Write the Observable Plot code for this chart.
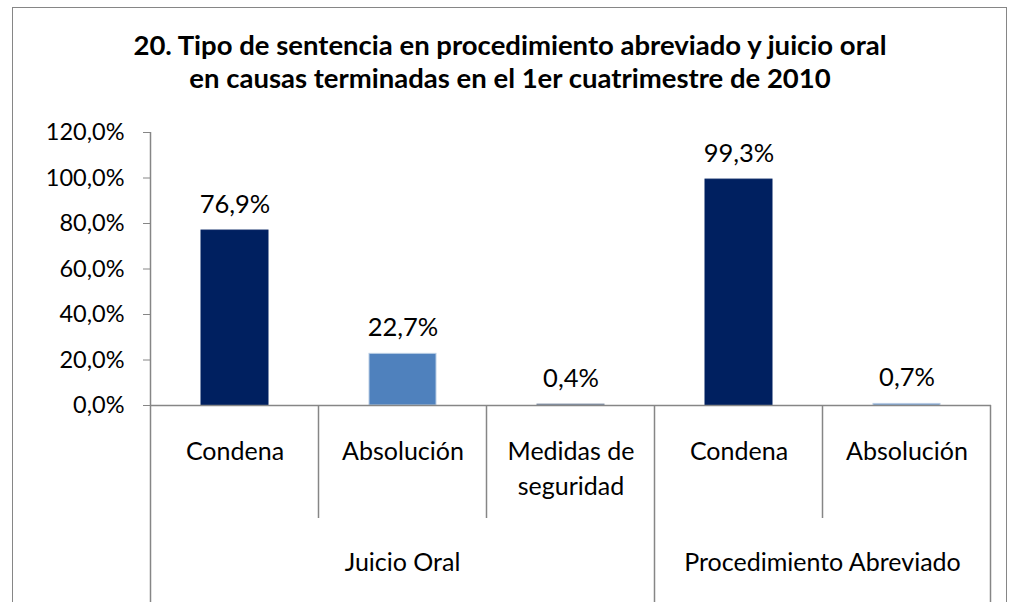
<!DOCTYPE html>
<html>
<head>
<meta charset="utf-8">
<script src="https://cdn.jsdelivr.net/npm/d3@7"></script>
<script src="https://cdn.jsdelivr.net/npm/@observablehq/plot@0.6"></script>
<style>
  html, body { margin: 0; padding: 0; background: #fff; width: 1015px; height: 602px; overflow: hidden; }
  #frame { position: absolute; left: 12px; top: 7px; width: 995px; height: 640px; border: 1px solid #868686; box-sizing: border-box; }
  #title { position: absolute; left: 12px; top: 28px; width: 996px; text-align: center; font-family: Lato, sans-serif; font-weight: bold; font-size: 27.5px; line-height: 33px; color: #000; }
  #chart { position: absolute; left: 0; top: 110px; }
</style>
</head>
<body>
<div id="frame"></div>
<div id="title">20. Tipo de sentencia en procedimiento abreviado y juicio oral<br>en causas terminadas en el 1er cuatrimestre de 2010</div>
<div id="chart"></div>
<script>
const groups = ["Juicio Oral", "Juicio Oral", "Juicio Oral", "Procedimiento Abreviado", "Procedimiento Abreviado"];
const categories = ["Condena", "Absolución", "Medidas de\nseguridad", "Condena", "Absolución"];
const values = [0.769, 0.227, 0.004, 0.993, 0.007];
const valueLabels = ["76,9%", "22,7%", "0,4%", "99,3%", "0,7%"];
const barColors = ["#002060", "#4F81BD", "#7F8EA3", "#002060", "#4F81BD"];
const barEdges = ["#002060", "#B9CDE5", "#7F8EA3", "#002060", "#B9CDE5"];
const yTicks = [0, 0.2, 0.4, 0.6, 0.8, 1.0, 1.2];
const yTickLabels = ["0,0%", "20,0%", "40,0%", "60,0%", "80,0%", "100,0%", "120,0%"];

const data = values.map((v, i) => ({
  key: groups[i] + "|" + i,
  group: groups[i],
  cat: categories[i],
  value: v,
  label: valueLabels[i],
  color: barColors[i],
  edge: barEdges[i]
}));
const keys = data.map(d => d.key);
const axisColor = "#868686";
const font = "Lato, sans-serif";

const plot = Plot.plot({
  width: 1015,
  height: 492,
  marginTop: 22,
  marginBottom: 197,
  marginLeft: 150,
  marginRight: 24,
  style: { fontFamily: font, fontSize: "23.5px", background: "transparent", color: "#000", overflow: "visible" },
  x: { domain: keys, paddingInner: 0.6, paddingOuter: 0.3, axis: null },
  y: { domain: [0, 1.2] },
  marks: [
    Plot.axisY(yTicks, {
      tickFormat: (d) => yTickLabels[yTicks.indexOf(d)],
      tickSize: 7, tickPadding: 19, stroke: axisColor, fill: "#000",
      fontSize: 23.5, label: null
    }),
    Plot.barY(data, { x: "key", y: "value", fill: "color", stroke: "edge", strokeWidth: 1 }),
    Plot.ruleY([0], { stroke: axisColor, strokeWidth: 1.5 }),
    Plot.text(data, { x: "key", y: "value", text: "label", lineAnchor: "bottom", dy: -18, fontSize: 25.5, fill: "#000" }),
    Plot.text(data, { x: "key", text: "cat", frameAnchor: "bottom", lineAnchor: "top", dy: 30, lineHeight: 1.4, fontSize: 25, fill: "#000" })
  ]
});
document.getElementById("chart").appendChild(plot);

// separators and group labels from the x scale
const sx = plot.scale("x");
const sy = plot.scale("y");
const step = sx.step, bw = sx.bandwidth;
const gap = (step - bw) / 2;
const y0 = sy.apply(0);
const yTop = sy.apply(1.2);
const svg = d3.select(plot);
const g = svg.append("g").attr("stroke", axisColor).attr("stroke-width", 1.5);
g.append("line").attr("x1", sx.apply(keys[0]) - gap).attr("x2", sx.apply(keys[0]) - gap).attr("y1", yTop).attr("y2", y0);
const bounds = [];
keys.forEach((k, i) => bounds.push({ x: sx.apply(k) - gap, group: groups[i], prev: i > 0 ? groups[i - 1] : null }));
bounds.push({ x: sx.apply(keys[keys.length - 1]) + bw + gap, group: null, prev: groups[groups.length - 1] });
const innerLen = 113, outerLen = 200;
bounds.forEach(b => {
  const isOuter = b.group !== b.prev;
  g.append("line").attr("x1", b.x).attr("x2", b.x).attr("y1", y0).attr("y2", y0 + (isOuter ? outerLen : innerLen));
});
const uniqueGroups = [...new Set(groups)];
uniqueGroups.forEach(gr => {
  const ks = keys.filter((k, i) => groups[i] === gr);
  const x1 = sx.apply(ks[0]) - gap;
  const x2 = sx.apply(ks[ks.length - 1]) + bw + gap;
  svg.append("text")
    .attr("x", (x1 + x2) / 2)
    .attr("y", y0 + 166)
    .attr("text-anchor", "middle")
    .attr("font-family", font)
    .attr("font-size", 25)
    .attr("fill", "#000")
    .text(gr);
});
</script>
</body>
</html>
